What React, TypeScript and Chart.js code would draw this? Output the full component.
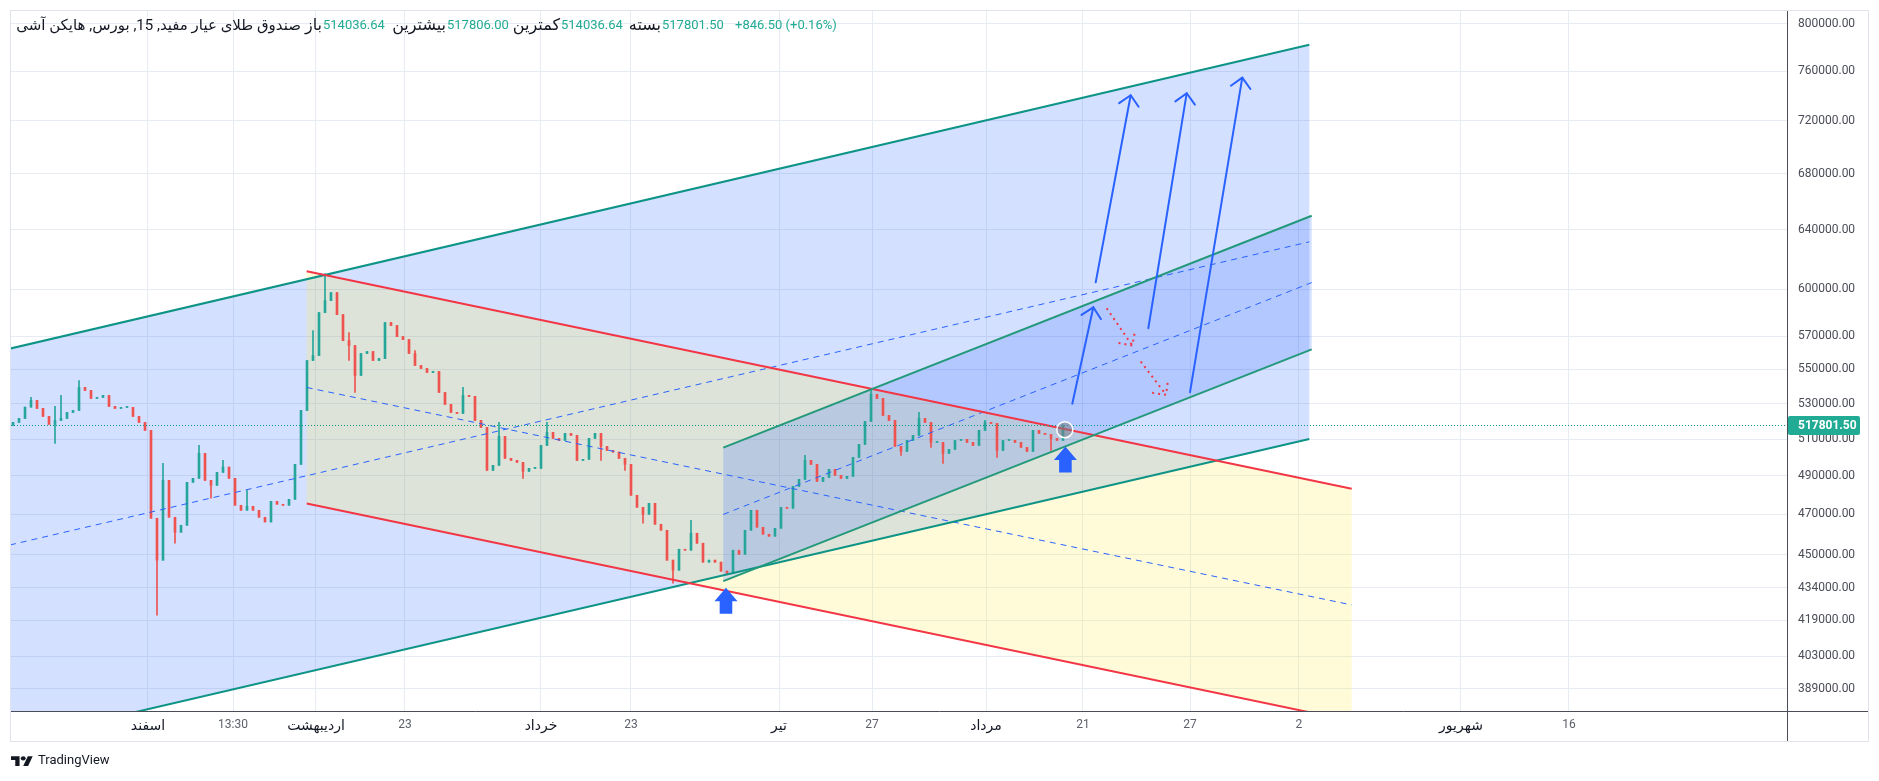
import React, { useEffect, useRef } from 'react';
import { Chart, registerables } from 'chart.js';

Chart.register(...registerables);

// ---------------- data ----------------
const firstOpen = 517600;
const closes: number[] = [
  519290, 521540, 527960, 531800, 527210, 522670, 518160, 520410, 521540, 524930,
  526070, 539340, 537590, 532960, 533530, 534690, 528360, 527210, 527790, 527790,
  522670, 519290, 514810, 468050, 447250, 487690, 468550, 461000, 464510, 486640,
  488750, 502150, 487690, 485060, 491940, 494760, 488750, 474670, 472110, 474160,
  472110, 468550, 466170, 476730, 475190, 474670, 477770, 496210, 526070, 555330,
  558340, 584930, 592570, 597730, 583660, 567470, 564410, 546380, 559550, 560760,
  555330, 556530, 578640, 576760, 569930, 568090, 559550, 552330, 550540, 548160,
  548760, 536430, 529500, 524930, 524360, 534690, 534110, 520410, 516480, 493000,
  495670, 511480, 499440, 498360, 497280, 492470, 494070, 494070, 506520, 513700,
  510370, 509270, 513140, 512030, 498360, 498900, 510370, 513140, 505970, 503780,
  502850, 499440, 496210, 479840, 473650, 470080, 475700, 465010, 462000, 447250,
  442430, 452600, 452110, 460510, 455550, 446280, 447250, 446280, 441950, 440990,
  452110, 450160, 462000, 472110, 463510, 460010, 459010, 463000, 473650, 473130,
  484540, 488220, 498360, 496210, 487160, 489280, 493530, 490340, 488750, 489810,
  499980, 507070, 519850, 535270, 532960, 523230, 520410, 505970, 503240, 509270,
  512030, 521540, 519290, 508170, 508170, 502150, 504330, 509270, 509820, 508170,
  506520, 514810, 519290, 518720, 503780, 509270, 509270, 508170, 505420, 503240,
  514810, 513140, 512590, 510370, 509270, 517801.5,
];
const highWickIndex = [3, 7, 8, 11, 25, 31, 35, 39, 50, 52, 56, 67, 75, 81, 89, 113, 132, 143, 151, 162, 175];
const highWickValue = [533530, 528360, 534690, 543430, 496750, 506520, 498360, 482440, 573650, 610140, 572410, 561370, 539340, 519290, 519290, 467030, 501060, 538750, 524930, 520410, 517806];
const lowWickIndex = [7, 24, 27, 33, 56, 57, 85, 98, 102, 105, 110, 148, 153, 155, 164, 173];
const lowWickValue = [507620, 421400, 455550, 478290, 555330, 536430, 488750, 498360, 493000, 465520, 436250, 501060, 505420, 496750, 499980, 503780];

const yTickValues = [800000, 760000, 720000, 680000, 640000, 600000, 570000, 550000, 530000, 510000, 490000, 470000, 450000, 434000, 419000, 403000, 389000];
const xTickPositions = [22.5, 36.67, 50.5, 65.33, 88, 103, 127.67, 143.17, 162.17, 178.33, 196.17, 214.33, 241.33, 259.33];
const xTickLabels = ['اسفند', '13:30', 'اردیبهشت', '23', 'خرداد', '23', 'تیر', '27', 'مرداد', '21', '27', '2', 'شهریور', '16'];
const monthNames = ['اسفند', 'اردیبهشت', 'خرداد', 'تیر', 'مرداد', 'شهریور'];
const lastPrice = 517801.5;

// drawings (x in bar units, y in price)
const bigChannelX = [-0.5, 216.05];
const bigUpper = [562520, 782030];
const bigMid = [454700, 631560];
const bigLower = [367550, 510040];
const redChannelX = [48.95, 223.12];
const redUpper = [611670, 483230];
const redMid = [539340, 426070];
const redLower = [475550, 375680];
const smallChannelX = [118.38, 216.45];
const smallUpper = [505260, 649700];
const smallMid = [470000, 604280];
const smallLower = [437200, 562040];
const upArrowFromX = [176.55, 180.45, 189.22, 196.17];
const upArrowFromY = [529910, 604430, 575080, 536600];
const upArrowToX = [180.05, 186.28, 195.62, 204.88];
const upArrowToY = [588300, 740350, 741950, 754580];
const downArrowFromX = [182.28, 187.95];
const downArrowFromY = [587660, 554730];
const downArrowToX = [186.55, 192.17];
const downArrowToY = [564410, 535100];
const iconX = [118.83, 175.4];
const iconY = [434040, 505970];
const circleX = 175.3;
const circleY = 515200;

const headerTitle = 'صندوق طلای عیار مفید, 15, بورس, هایکن آشی';
const legendLabels = ['باز', 'بیشترین', 'کمترین', 'بسته'];
const legendValues = ['514036.64', '517806.00', '514036.64', '517801.50'];
const legendChange = '+846.50 (+0.16%)';

// ---------------- helpers ----------------
const W = 1863;
const H = 765;
const UP = '#26a69a';
const DOWN = '#ef5350';
const FONT = 'Roboto, "DejaVu Sans", sans-serif';

function P(chart: any, u: number, v: number): [number, number] {
  return [chart.scales.x.getPixelForValue(u), chart.scales.y.getPixelForValue(v)];
}

function fillChannel(ctx: any, chart: any, xs: number[], up: number[], lo: number[], color: string) {
  const a = P(chart, xs[0], up[0]);
  const b = P(chart, xs[1], up[1]);
  const c = P(chart, xs[1], lo[1]);
  const d = P(chart, xs[0], lo[0]);
  ctx.beginPath();
  ctx.moveTo(a[0], a[1]);
  ctx.lineTo(b[0], b[1]);
  ctx.lineTo(c[0], c[1]);
  ctx.lineTo(d[0], d[1]);
  ctx.closePath();
  ctx.fillStyle = color;
  ctx.fill();
}

function seg(ctx: any, chart: any, x0: number, v0: number, x1: number, v1: number, color: string, width: number, dash: number[] = []) {
  const a = P(chart, x0, v0);
  const b = P(chart, x1, v1);
  ctx.beginPath();
  ctx.setLineDash(dash);
  ctx.strokeStyle = color;
  ctx.lineWidth = width;
  ctx.moveTo(a[0], a[1]);
  ctx.lineTo(b[0], b[1]);
  ctx.stroke();
  ctx.setLineDash([]);
}

function arrow(ctx: any, chart: any, x0: number, v0: number, x1: number, v1: number, color: string, dash: number[]) {
  const a = P(chart, x0, v0);
  const b = P(chart, x1, v1);
  const ang = Math.atan2(b[1] - a[1], b[0] - a[0]);
  const L = 14;
  ctx.save();
  ctx.strokeStyle = color;
  ctx.lineWidth = 2;
  ctx.lineCap = dash.length ? 'butt' : 'round';
  ctx.lineJoin = 'round';
  ctx.setLineDash(dash);
  ctx.beginPath();
  ctx.moveTo(a[0], a[1]);
  ctx.lineTo(b[0], b[1]);
  ctx.stroke();
  ctx.beginPath();
  ctx.moveTo(b[0] + L * Math.cos(ang + Math.PI - Math.PI / 4), b[1] + L * Math.sin(ang + Math.PI - Math.PI / 4));
  ctx.lineTo(b[0], b[1]);
  ctx.lineTo(b[0] + L * Math.cos(ang + Math.PI + Math.PI / 4), b[1] + L * Math.sin(ang + Math.PI + Math.PI / 4));
  ctx.stroke();
  ctx.restore();
}

function upIcon(ctx: any, x: number, y: number) {
  ctx.beginPath();
  ctx.moveTo(x, y);
  ctx.lineTo(x + 11.5, y + 13.5);
  ctx.lineTo(x + 6.3, y + 13.5);
  ctx.lineTo(x + 6.3, y + 26);
  ctx.lineTo(x - 6.3, y + 26);
  ctx.lineTo(x - 6.3, y + 13.5);
  ctx.lineTo(x - 11.5, y + 13.5);
  ctx.closePath();
  ctx.fillStyle = '#2962ff';
  ctx.fill();
}

const drawingsPlugin = {
  id: 'drawings',
  beforeDatasetsDraw(chart: any) {
    const { ctx, chartArea } = chart;
    ctx.save();
    ctx.beginPath();
    ctx.rect(chartArea.left, chartArea.top, chartArea.right - chartArea.left, chartArea.bottom - chartArea.top);
    ctx.clip();
    fillChannel(ctx, chart, bigChannelX, bigUpper, bigLower, 'rgba(41,98,255,0.2)');
    fillChannel(ctx, chart, redChannelX, redUpper, redLower, 'rgba(255,235,59,0.2)');
    fillChannel(ctx, chart, smallChannelX, smallUpper, smallLower, 'rgba(41,98,255,0.2)');
    ctx.restore();
  },
  afterDatasetsDraw(chart: any) {
    const { ctx, chartArea } = chart;
    ctx.save();
    ctx.beginPath();
    ctx.rect(chartArea.left, chartArea.top, chartArea.right - chartArea.left, chartArea.bottom - chartArea.top);
    ctx.clip();
    seg(ctx, chart, bigChannelX[0], bigMid[0], bigChannelX[1], bigMid[1], '#2962ff', 1, [6, 5]);
    seg(ctx, chart, redChannelX[0], redMid[0], redChannelX[1], redMid[1], '#2962ff', 1, [6, 5]);
    seg(ctx, chart, smallChannelX[0], smallMid[0], smallChannelX[1], smallMid[1], '#2962ff', 1, [6, 5]);
    seg(ctx, chart, bigChannelX[0], bigUpper[0], bigChannelX[1], bigUpper[1], '#0e9486', 2);
    seg(ctx, chart, bigChannelX[0], bigLower[0], bigChannelX[1], bigLower[1], '#0e9486', 2);
    seg(ctx, chart, redChannelX[0], redUpper[0], redChannelX[1], redUpper[1], '#f23645', 2);
    seg(ctx, chart, redChannelX[0], redLower[0], redChannelX[1], redLower[1], '#f23645', 2);
    seg(ctx, chart, smallChannelX[0], smallUpper[0], smallChannelX[1], smallUpper[1], '#23997a', 2);
    seg(ctx, chart, smallChannelX[0], smallLower[0], smallChannelX[1], smallLower[1], '#23997a', 2);
    const yp = chart.scales.y.getPixelForValue(lastPrice);
    ctx.beginPath();
    ctx.setLineDash([1, 2]);
    ctx.strokeStyle = '#089981';
    ctx.lineWidth = 1;
    ctx.moveTo(chartArea.left, Math.round(yp) + 0.5);
    ctx.lineTo(chartArea.right, Math.round(yp) + 0.5);
    ctx.stroke();
    ctx.setLineDash([]);
    for (let i = 0; i < upArrowFromX.length; i++) {
      arrow(ctx, chart, upArrowFromX[i], upArrowFromY[i], upArrowToX[i], upArrowToY[i], '#2962ff', []);
    }
    for (let i = 0; i < downArrowFromX.length; i++) {
      arrow(ctx, chart, downArrowFromX[i], downArrowFromY[i], downArrowToX[i], downArrowToY[i], '#f23645', [2, 4]);
    }
    for (let i = 0; i < iconX.length; i++) {
      const p = P(chart, iconX[i], iconY[i]);
      upIcon(ctx, p[0], p[1]);
    }
    const c = P(chart, circleX, circleY);
    ctx.beginPath();
    ctx.arc(c[0], c[1], 8, 0, Math.PI * 2);
    ctx.fillStyle = 'rgba(120,123,134,0.55)';
    ctx.fill();
    ctx.strokeStyle = '#ffffff';
    ctx.lineWidth = 1.5;
    ctx.stroke();
    ctx.restore();
  },
  afterDraw(chart: any) {
    const { ctx, chartArea } = chart;
    ctx.save();
    ctx.strokeStyle = '#e0e3eb';
    ctx.lineWidth = 1;
    ctx.strokeRect(2.5, 2.5, 1858, 731);
    ctx.strokeStyle = '#4a4d57';
    ctx.beginPath();
    ctx.moveTo(Math.round(chartArea.right) + 0.5, 3);
    ctx.lineTo(Math.round(chartArea.right) + 0.5, 733);
    ctx.moveTo(3, Math.round(chartArea.bottom) + 0.5);
    ctx.lineTo(1860, Math.round(chartArea.bottom) + 0.5);
    ctx.stroke();
    const yp = chart.scales.y.getPixelForValue(lastPrice);
    ctx.fillStyle = '#22ab94';
    ctx.beginPath();
    ctx.roundRect(chartArea.right + 1, yp - 9, 72, 19, 2);
    ctx.fill();
    ctx.fillStyle = '#ffffff';
    ctx.font = 'bold 12px ' + FONT;
    ctx.textBaseline = 'middle';
    ctx.textAlign = 'left';
    ctx.fillText(lastPrice.toFixed(2), chartArea.right + 11, yp + 0.5);
    ctx.restore();
  },
};

export default function App() {
  const ref = useRef<HTMLCanvasElement | null>(null);

  useEffect(() => {
    if (!ref.current) return;
    const candles = closes.map((c, i) => {
      const o = i === 0 ? firstOpen : closes[i - 1];
      let h = Math.max(o, c);
      let l = Math.min(o, c);
      const hi = highWickIndex.indexOf(i);
      if (hi >= 0) h = Math.max(h, highWickValue[hi]);
      const li = lowWickIndex.indexOf(i);
      if (li >= 0) l = Math.min(l, lowWickValue[li]);
      return { x: i, o, h, l, c };
    });
    const colors = candles.map((k) => (k.c >= k.o ? UP : DOWN));

    const chart = new Chart(ref.current, {
      type: 'bar',
      data: {
        datasets: [
          {
            label: 'body',
            data: candles.map((k) => ({ x: k.x, y: [k.o, k.c] })) as any,
            backgroundColor: colors,
            barThickness: 2,
            minBarLength: 1,
            grouped: false,
            order: 0,
          } as any,
          {
            label: 'wick',
            data: candles.map((k) => ({ x: k.x, y: [k.l, k.h] })) as any,
            backgroundColor: colors,
            barThickness: 1,
            grouped: false,
            order: 1,
          } as any,
        ],
      },
      options: {
        animation: false,
        responsive: false,
        maintainAspectRatio: false,
        events: [],
        layout: { padding: { left: 3, top: 3, right: 0, bottom: 0 } },
        plugins: { legend: { display: false }, tooltip: { enabled: false } },
        scales: {
          x: {
            type: 'linear',
            position: 'bottom',
            offset: false,
            bounds: 'data',
            min: -1 / 3,
            max: 295.6667,
            afterBuildTicks: (s: any) => {
              s.ticks = xTickPositions.map((v) => ({ value: v }));
            },
            afterFit: (s: any) => {
              s.height = 62;
              s.paddingLeft = 0;
              s.paddingRight = 0;
            },
            grid: { color: '#e6ecf2', drawTicks: false, lineWidth: 1, offset: false },
            border: { display: false },
            ticks: {
              autoSkip: false,
              maxRotation: 0,
              padding: 7,
              font: (c: any) => ({ family: FONT, size: monthNames.includes(xTickLabels[c.index]) ? 14 : 12 }),
              color: (c: any) => (monthNames.includes(xTickLabels[c.index]) ? '#131722' : '#5d606b'),
              callback: (_v: any, i: number) => xTickLabels[i],
            },
          },
          y: {
            type: 'logarithmic',
            position: 'right',
            bounds: 'data',
            min: 379800,
            max: 811100,
            afterBuildTicks: (s: any) => {
              s.ticks = yTickValues.map((v) => ({ value: v }));
            },
            afterFit: (s: any) => {
              s.width = 84;
              s.paddingTop = 0;
              s.paddingBottom = 0;
            },
            grid: { color: '#e6ecf2', drawTicks: false, lineWidth: 1 },
            border: { display: false },
            ticks: {
              padding: 11,
              font: { family: FONT, size: 12 },
              color: '#4a4d57',
              callback: (v: any) => Number(v).toFixed(2),
            },
          },
        },
      } as any,
      plugins: [drawingsPlugin],
    });
    return () => chart.destroy();
  }, []);

  const labelRight = [1549, 1425, 1311, 1210];
  const valueLeft = [315, 439, 553, 654];
  const textStyle: React.CSSProperties = {
    position: 'absolute',
    top: 8,
    fontFamily: FONT,
    fontSize: 13,
    lineHeight: '18px',
    whiteSpace: 'nowrap',
  };
  const faStyle: React.CSSProperties = { ...textStyle, fontSize: 16 };

  return (
    <div style={{ position: 'relative', width: W, height: H + 20, background: '#ffffff' }}>
      <canvas ref={ref} width={W} height={H} style={{ display: 'block', width: W, height: H }} />
      <span dir="rtl" style={{ ...faStyle, fontSize: 15, right: 1570, color: '#131722' }}>{headerTitle}</span>
      {legendLabels.map((t, i) => (
        <React.Fragment key={i}>
          <span dir="rtl" style={{ ...faStyle, right: labelRight[i], color: '#131722' }}>{t}</span>
          <span style={{ ...textStyle, left: valueLeft[i], color: '#22ab94' }}>{legendValues[i]}</span>
        </React.Fragment>
      ))}
      <span style={{ ...textStyle, left: 727, color: '#22ab94' }}>{legendChange}</span>
      <div style={{ position: 'absolute', top: 744, left: 3, display: 'flex', alignItems: 'center', gap: 5 }}>
        <svg width="22" height="12" viewBox="0 0 36 22" preserveAspectRatio="none">
          <path d="M14 22H7V11H0V4h14v18z" fill="#131722" />
          <circle cx="20" cy="8" r="4" fill="#131722" />
          <path d="M28 22h-8l7.5-18h8L28 22z" fill="#131722" />
        </svg>
        <span style={{ fontFamily: FONT, fontSize: 13, color: '#131722' }}>TradingView</span>
      </div>
    </div>
  );
}
